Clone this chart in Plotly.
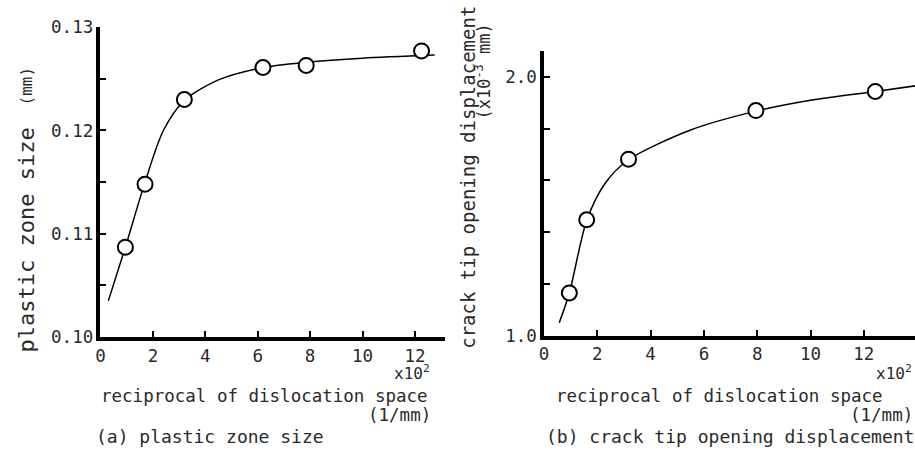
import plotly.graph_objects as go

W, H = 915, 457

# ---- data ----
# (a) plastic zone size (mm) vs reciprocal of dislocation space (x10^2 1/mm)
x_a = [0.95, 1.7, 3.2, 6.2, 7.85, 12.25]
y_a = [0.1087, 0.1148, 0.1230, 0.1261, 0.1263, 0.1277]
curve_x_a = [0.3, 0.95, 1.7, 2.4, 3.2, 4.5, 6.2, 7.85, 10.0, 12.75]
curve_y_a = [0.1035, 0.1087, 0.1150, 0.1200, 0.1229, 0.1249, 0.1261, 0.1266, 0.1270, 0.1273]

# (b) crack tip opening displacement (x10^-3 mm)
x_b = [0.95, 1.6, 3.17, 7.95, 12.43]
y_b = [1.165, 1.448, 1.682, 1.870, 1.944]
curve_x_b = [0.57, 0.95, 1.6, 2.3, 3.17, 5.5, 7.95, 10.0, 12.43, 13.95]
curve_y_b = [1.05, 1.165, 1.445, 1.59, 1.680, 1.795, 1.868, 1.910, 1.944, 1.966]

x_ticks = [0, 2, 4, 6, 8, 10, 12]
x_ticktext = ["0", "2", "4", "6", "8", "10", "12"]
ya_ticks = [0.10, 0.105, 0.11, 0.115, 0.12, 0.125, 0.13]
ya_ticktext = ["0.10", "", "0.11", "", "0.12", "", "0.13"]
yb_ticks = [1.0, 1.2, 1.4, 1.6, 1.8, 2.0]
yb_ticktext = ["1.0", "", "", "", "", "2.0"]


def px(x):
    return x / W


def py(y):
    return 1 - y / H


FONT = "DejaVu Sans Mono, Liberation Mono, monospace"
TXT = "#2a2a2a"

fig = go.Figure()

line_style = dict(color="black", width=1.5, shape="spline", smoothing=0.8)
marker_style = dict(symbol="circle", size=15, color="white",
                    line=dict(color="black", width=2))

fig.add_trace(go.Scatter(x=curve_x_a, y=curve_y_a, mode="lines", line=line_style,
                         xaxis="x", yaxis="y", showlegend=False, hoverinfo="skip"))
fig.add_trace(go.Scatter(x=x_a, y=y_a, mode="markers", marker=marker_style,
                         xaxis="x", yaxis="y", showlegend=False))
fig.add_trace(go.Scatter(x=curve_x_b, y=curve_y_b, mode="lines", line=line_style,
                         xaxis="x2", yaxis="y2", showlegend=False, hoverinfo="skip"))
fig.add_trace(go.Scatter(x=x_b, y=y_b, mode="markers", marker=marker_style,
                         xaxis="x2", yaxis="y2", showlegend=False))

axis_common = dict(showgrid=False, zeroline=False, showline=True, linecolor="black",
                   linewidth=3.5, ticks="inside", ticklen=6, tickwidth=2,
                   tickcolor="black", tickfont=dict(family=FONT, size=17.5, color=TXT))

fig.update_layout(
    width=W, height=H,
    margin=dict(l=0, r=0, t=0, b=0),
    paper_bgcolor="white", plot_bgcolor="white",
    xaxis=dict(domain=[px(96), px(442)], range=[0, 13.13], anchor="y",
               tickmode="array", tickvals=x_ticks, ticktext=x_ticktext, **axis_common),
    yaxis=dict(domain=[py(342), py(18)], range=[0.10, 0.13], anchor="x",
               tickmode="array", tickvals=ya_ticks, ticktext=ya_ticktext, **axis_common),
    xaxis2=dict(domain=[px(542), 1.0], range=[0, 13.92], anchor="y2",
                tickmode="array", tickvals=x_ticks, ticktext=x_ticktext, **axis_common),
    yaxis2=dict(domain=[py(340.5), py(43)], range=[1.0, 2.10], anchor="x2",
                tickmode="array", tickvals=yb_ticks, ticktext=yb_ticktext, **axis_common),
)


def ann(text, x, y, size=17, angle=0, xanchor="center"):
    fig.add_annotation(text=text, x=px(x), y=py(y), xref="paper", yref="paper",
                       showarrow=False, textangle=angle, xanchor=xanchor, yanchor="middle",
                       borderpad=0,
                       font=dict(family=FONT, size=size, color=TXT))


# left panel texts
ann("plastic zone size", 22, 240, size=22, angle=-90)
ann("(mm)", 22, 79, size=16, angle=-90)
ann("x10<sup>2</sup>", 428, 379, size=16, xanchor="right")
ann("reciprocal of dislocation space", 261, 404, size=17.5)
ann("(1/mm)", 397, 424, size=17.5)
ann("(a) plastic zone size", 206, 446, size=18)

# right panel texts
ann("crack tip opening displacement", 466, 175, size=19, angle=-90)
ann("(x10<sup>-3</sup> mm)", 481, 64, size=17, angle=-90)
ann("x10<sup>2</sup>", 913, 379, size=16, xanchor="right")
ann("reciprocal of dislocation space", 718, 404, size=17.5)
ann("(1/mm)", 914, 424, size=17.5, xanchor="right")
ann("(b) crack tip opening displacement", 543, 446, size=18, xanchor="left")

fig.write_html("out.html")
